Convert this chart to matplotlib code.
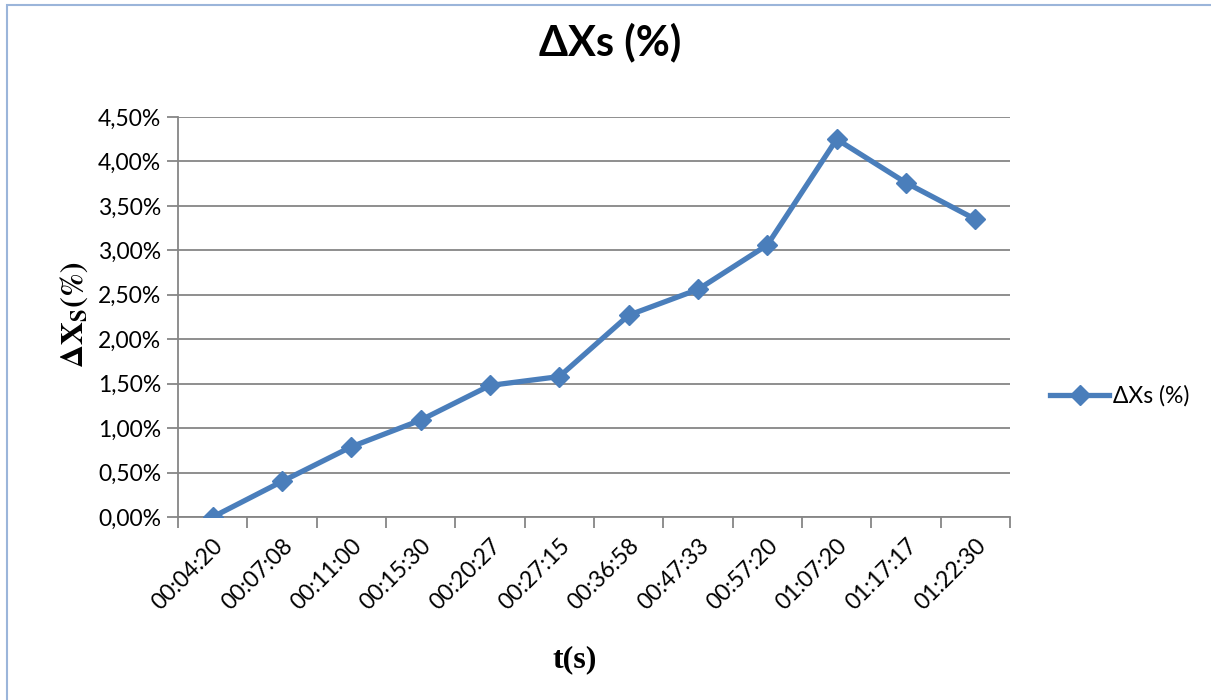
import numpy as np
import matplotlib.pyplot as plt
from matplotlib.patches import Rectangle
from matplotlib.ticker import FixedLocator, FuncFormatter

plt.rcParams['mathtext.fontset'] = 'stix'

# elapsed time stamps and measured ΔXs values (%)
times = ['00:04:20', '00:07:08', '00:11:00', '00:15:30', '00:20:27', '00:27:15',
         '00:36:58', '00:47:33', '00:57:20', '01:07:20', '01:17:17', '01:22:30']
dxs = [0.00, 0.40, 0.79, 1.09, 1.48, 1.58, 2.27, 2.56, 3.06, 4.25, 3.76, 3.35]
y_ticks = [0.0, 0.5, 1.0, 1.5, 2.0, 2.5, 3.0, 3.5, 4.0, 4.5]

line_c = '#4A7EBB'
grid_c = '#868686'
tick_fs = 16.5

fig = plt.figure(figsize=(12.11, 7.0), dpi=100)
ax = fig.add_axes([178 / 1211, 1 - 517 / 700, (1010 - 178) / 1211, 400 / 700])

# light blue chart frame (left and top edges only show)
fig.patches.append(Rectangle((7 / 1211, -0.1), 1.2, 1 - 5 / 700 + 0.1, transform=fig.transFigure,
                             fill=False, edgecolor='#9BB5DA', linewidth=1.5))

x = np.arange(len(times))
ax.plot(x, dxs, color=line_c, lw=3.8, marker='D', markersize=10,
        markerfacecolor=line_c, markeredgecolor=line_c, label='ΔXs (%)', zorder=3)

ax.set_xlim(-0.5, len(times) - 0.5)
ax.set_ylim(0, 4.5)

ax.yaxis.set_major_locator(FixedLocator(y_ticks))
ax.yaxis.set_major_formatter(FuncFormatter(lambda v, p: f'{v:.2f}%'.replace('.', ',')))
ax.grid(axis='y', color=grid_c, lw=1.3, zorder=0)

# category boundaries get tick marks, labels sit at category centres
ax.set_xticks(np.arange(-0.5, len(times)), minor=False)
ax.set_xticklabels([])
ax.set_xticks(x, minor=True)
ax.set_xticklabels(times, minor=True, rotation=45, ha='right', va='top',
                   rotation_mode='anchor', fontsize=tick_fs, family='Lato')
ax.tick_params(axis='x', which='minor', length=0, pad=13)
ax.tick_params(axis='x', which='major', length=8, width=1.3, color=grid_c, direction='out')
ax.tick_params(axis='y', length=8, width=1.3, color=grid_c, direction='out', pad=4)
for lab in ax.get_yticklabels():
    lab.set_family('Lato')
    lab.set_fontsize(tick_fs)

for side in ['top', 'right']:
    ax.spines[side].set_visible(False)
for side in ['left', 'bottom']:
    ax.spines[side].set_color(grid_c)
    ax.spines[side].set_linewidth(1.3)

fig.text(610 / 1211, 1 - 42 / 700, 'ΔXs (%)', ha='center', va='center',
         fontsize=30, fontweight='bold', family='Lato')
fig.text(74 / 1211, 1 - 315 / 700, r'$\mathbf{\Delta X_S(\%)}$', rotation=90,
         ha='center', va='center', fontsize=23)
fig.text(575 / 1211, 1 - 660 / 700, 't(s)', ha='center', va='center',
         fontsize=23, fontweight='bold', family='Liberation Serif')

ax.legend(loc='center left', bbox_to_anchor=(1.023, 0.5 + (317 - 396) / 400), frameon=False,
          prop={'family': 'Lato', 'size': tick_fs}, handlelength=2.6, handletextpad=0.15)

fig.savefig('out.png', dpi=100)
